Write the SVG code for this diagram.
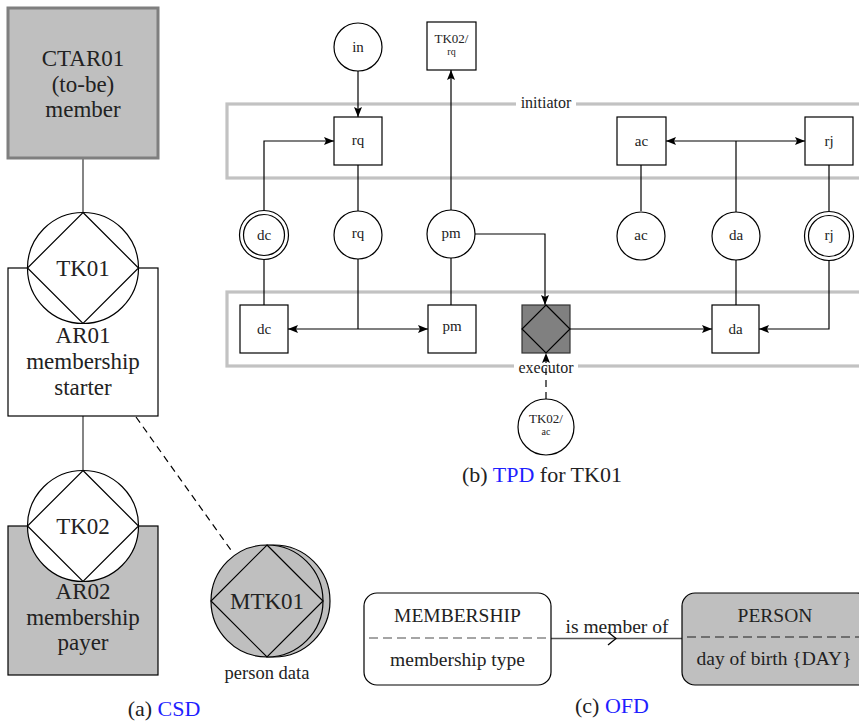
<svg xmlns="http://www.w3.org/2000/svg" width="859" height="723" viewBox="0 0 859 723" font-family="'Liberation Serif', 'Times New Roman', Tinos, 'Noto Serif', 'DejaVu Serif', Times, serif">
  <style>
    text { font-family: "Liberation Serif", "Times New Roman", Tinos, "Noto Serif", "DejaVu Serif", Times, serif; fill: #222; text-anchor: middle; }
    .big { font-size: 23px; }
    .cap { font-size: 22px; }
    .ofd { font-size: 19.5px; }
    .sm { font-size: 15px; }
    .lane-lbl { font-size: 16px; }
    .tiny { font-size: 13px; }
    .tiny2 { font-size: 10px; }
    .blue { fill: #1f1fff; }
    .ln { stroke: #000; stroke-width: 1.2; fill: none; }
    .gln { stroke: #666; stroke-width: 1.6; fill: none; }
    .node { fill: #fff; stroke: #000; stroke-width: 1.2; }
    .gray { fill: #bfbfbf; stroke: #000; stroke-width: 1.2; }
    .lane { fill: none; stroke: #c2c2c2; stroke-width: 3.2; }
    .dash { stroke-dasharray: 7 5; }
  </style>
  <defs>
    <marker id="arr" markerUnits="userSpaceOnUse" markerWidth="12" markerHeight="10" refX="11" refY="5" orient="auto">
      <path d="M1,1 L11,5 L1,9 L3,5 z" fill="#000"/>
    </marker>
  </defs>

  <rect width="859" height="723" fill="#fff"/>

  <!-- ============ (a) CSD ============ -->
  <g id="csd-connectors">
    <line class="gln" x1="83" y1="158" x2="83" y2="212"/>
    <line class="gln" x1="83" y1="416" x2="83" y2="470"/>
    <line class="ln dash" x1="136" y1="417" x2="233" y2="553"/>
  </g>

  <g id="CTAR01">
    <rect x="8" y="8" width="150" height="150" fill="#bfbfbf" stroke="#7f7f7f" stroke-width="3"/>
    <text class="big" x="83" y="66">CTAR01</text>
    <text class="big" x="83" y="92">(to-be)</text>
    <text class="big" x="83" y="117">member</text>
  </g>

  <g id="AR01">
    <rect class="node" x="8" y="268" width="150" height="148"/>
    <circle class="node" cx="83" cy="268" r="55.5"/>
    <polygon class="node" points="83,212.5 138.5,268 83,323.5 27.5,268"/>
    <text class="big" x="83" y="276">TK01</text>
    <text class="big" x="83" y="343">AR01</text>
    <text class="big" x="83" y="369">membership</text>
    <text class="big" x="83" y="395">starter</text>
  </g>

  <g id="AR02">
    <rect class="gray" x="8" y="526" width="150" height="149"/>
    <circle class="node" cx="83" cy="526" r="55.5"/>
    <polygon class="node" points="83,470.5 138.5,526 83,581.5 27.5,526"/>
    <text class="big" x="83" y="534">TK02</text>
    <text class="big" x="83" y="599">AR02</text>
    <text class="big" x="83" y="625">membership</text>
    <text class="big" x="83" y="650">payer</text>
  </g>

  <g id="MTK01">
    <circle class="gray" cx="274" cy="601" r="56"/>
    <circle class="gray" cx="267" cy="601" r="56"/>
    <polygon class="gray" points="267,545 323,601 267,657 211,601"/>
    <text class="big" x="267" y="609">MTK01</text>
    <text x="267" y="679" style="font-size:18.5px">person data</text>
  </g>

  <text class="cap" x="164" y="716">(a) <tspan class="blue">CSD</tspan></text>

  <!-- ============ (b) TPD ============ -->
  <g id="lanes">
    <rect class="lane" x="227" y="104" width="650" height="74"/>
    <rect class="lane" x="227" y="292" width="650" height="74"/>
    <rect x="516" y="96" width="60" height="16" fill="#fff"/>
    <text class="lane-lbl" x="546" y="108">initiator</text>
    <rect x="514" y="361" width="64" height="14" fill="#fff"/>
    <text class="lane-lbl" x="546" y="373">executor</text>
  </g>

  <g id="tpd-connectors">
    <line class="ln" x1="358" y1="71" x2="358" y2="117" marker-end="url(#arr)"/>
    <polyline class="ln" points="264,211 264,141 334,141" marker-end="url(#arr)"/>
    <line class="ln" x1="264" y1="259" x2="264" y2="305"/>
    <line class="ln" x1="358" y1="165" x2="358" y2="211"/>
    <line class="ln" x1="358" y1="259" x2="358" y2="329"/>
    <line class="ln" x1="358" y1="329" x2="288" y2="329" marker-end="url(#arr)"/>
    <line class="ln" x1="358" y1="329" x2="428" y2="329" marker-end="url(#arr)"/>
    <line class="ln" x1="451" y1="210" x2="451" y2="70" marker-end="url(#arr)"/>
    <line class="ln" x1="451" y1="258" x2="451" y2="305"/>
    <polyline class="ln" points="475,234 545,234 545,305" marker-end="url(#arr)"/>
    <line class="ln" x1="570" y1="329" x2="712" y2="329" marker-end="url(#arr)"/>
    <line class="ln dash" x1="546" y1="399" x2="546" y2="353" marker-end="url(#arr)"/>
    <line class="ln" x1="641" y1="165" x2="641" y2="211"/>
    <line class="ln" x1="736" y1="212" x2="736" y2="141"/>
    <line class="ln" x1="736" y1="141" x2="666" y2="141" marker-end="url(#arr)"/>
    <line class="ln" x1="736" y1="141" x2="805" y2="141" marker-end="url(#arr)"/>
    <line class="ln" x1="736" y1="260" x2="736" y2="305"/>
    <line class="ln" x1="829" y1="165" x2="829" y2="211"/>
    <polyline class="ln" points="829,260 829,329 759,329" marker-end="url(#arr)"/>
  </g>

  <g id="in">
    <circle class="node" cx="358" cy="47" r="24"/>
    <text class="sm" x="358" y="52">in</text>
  </g>
  <g id="TK02-rq">
    <rect class="node" x="427" y="22" width="49" height="48"/>
    <text class="tiny" x="451.5" y="43">TK02/</text>
    <text class="tiny2" x="451.5" y="55">rq</text>
  </g>
  <g id="rq-act">
    <rect class="node" x="334" y="117" width="48" height="48"/>
    <text class="sm" x="358" y="145">rq</text>
  </g>
  <g id="ac-act">
    <rect class="node" x="617" y="117" width="49" height="48"/>
    <text class="sm" x="641.5" y="146">ac</text>
  </g>
  <g id="rj-act">
    <rect class="node" x="805" y="117" width="48" height="48"/>
    <text class="sm" x="829" y="146">rj</text>
  </g>

  <g id="dc-fact">
    <circle class="node" cx="264" cy="235" r="24.5"/>
    <circle class="node" cx="264" cy="235" r="20.5"/>
    <text class="sm" x="264" y="240">dc</text>
  </g>
  <g id="rq-fact">
    <circle class="node" cx="358" cy="235" r="24"/>
    <text class="sm" x="358" y="238">rq</text>
  </g>
  <g id="pm-fact">
    <circle class="node" cx="451" cy="234" r="24"/>
    <text class="sm" x="451" y="238">pm</text>
  </g>
  <g id="ac-fact">
    <circle class="node" cx="641" cy="236" r="24"/>
    <text class="sm" x="641" y="240">ac</text>
  </g>
  <g id="da-fact">
    <circle class="node" cx="736" cy="236" r="24"/>
    <text class="sm" x="736" y="240">da</text>
  </g>
  <g id="rj-fact">
    <circle class="node" cx="829" cy="236" r="24.5"/>
    <circle class="node" cx="829" cy="236" r="20.5"/>
    <text class="sm" x="829" y="240">rj</text>
  </g>

  <g id="dc-act">
    <rect class="node" x="240" y="305" width="48" height="48"/>
    <text class="sm" x="264" y="334">dc</text>
  </g>
  <g id="pm-act">
    <rect class="node" x="428" y="305" width="48" height="48"/>
    <text class="sm" x="452" y="331">pm</text>
  </g>
  <g id="TK01-exec">
    <rect x="522" y="305" width="48" height="48" fill="#808080" stroke="#333" stroke-width="1.2"/>
    <polygon points="546,305 570,329 546,353 522,329" fill="none" stroke="#000" stroke-width="1.2"/>
  </g>
  <g id="da-act">
    <rect class="node" x="712" y="305" width="47" height="48"/>
    <text class="sm" x="735.5" y="334">da</text>
  </g>
  <g id="TK02-ac">
    <circle class="node" cx="546" cy="427" r="28"/>
    <text class="tiny" x="546" y="423">TK02/</text>
    <text class="tiny2" x="546" y="435">ac</text>
  </g>

  <text class="cap" x="542" y="482">(b) <tspan class="blue">TPD</tspan> for TK01</text>

  <!-- ============ (c) OFD ============ -->
  <g id="ofd-connectors">
    <line x1="551" y1="638.5" x2="682" y2="638.5" stroke="#555" stroke-width="1.6"/>
    <polyline points="608,632 616,638.5 608,645" fill="none" stroke="#000" stroke-width="1.3"/>
    <text class="ofd" x="617" y="633">is member of</text>
  </g>

  <g id="MEMBERSHIP">
    <rect class="node" x="364" y="593" width="187" height="92" rx="13"/>
    <line x1="369" y1="638" x2="546" y2="638" stroke="#888" stroke-width="1.3" stroke-dasharray="9 5"/>
    <text class="ofd" x="457.5" y="622">MEMBERSHIP</text>
    <text class="ofd" x="457.5" y="666">membership type</text>
  </g>

  <g id="PERSON">
    <rect class="gray" x="682" y="593" width="188" height="92" rx="13"/>
    <line x1="687" y1="637" x2="866" y2="637" stroke="#555" stroke-width="1.3" stroke-dasharray="9 5"/>
    <text class="ofd" x="775" y="622">PERSON</text>
    <text class="ofd" x="774" y="665">day of birth {DAY}</text>
  </g>

  <text class="cap" x="612" y="713">(c) <tspan class="blue">OFD</tspan></text>
</svg>
